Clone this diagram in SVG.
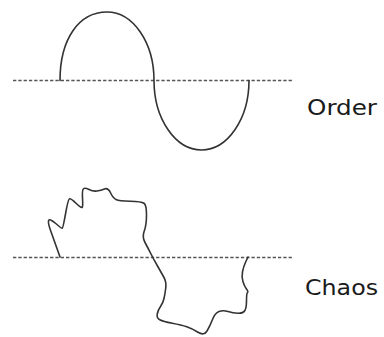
<svg xmlns="http://www.w3.org/2000/svg" width="384" height="337" viewBox="0 0 384 337">
  <style>
    .axis { stroke: #555; stroke-width: 1.5; stroke-dasharray: 3.3 2; fill: none; }
    .wave { stroke: #333; stroke-width: 1.6; fill: none; stroke-linejoin: round; stroke-linecap: round; }
    .label { font-family: "DejaVu Sans", Verdana, sans-serif; font-size: 20.5px; fill: #1a1a1a; }
  </style>
  <rect width="384" height="337" fill="#ffffff"/>
  <g id="order">
    <line class="axis" x1="13" y1="80.5" x2="293" y2="80.5"/>
    <path class="wave" d="M60,80.5 C60,39 78.8,12 107,12 C133,12 154,42.5 154,80.5 C154,118.6 175.3,150 201.5,150 C227.7,150 249,118.6 249,80.5"/>
    <text class="label" x="307" y="114.5" textLength="70" lengthAdjust="spacingAndGlyphs">Order</text>
  </g>
  <g id="chaos">
    <line class="axis" x1="13" y1="257.5" x2="293" y2="257.5"/>
    <path class="wave" d="M60,257 L57,248.5 Q54,240 50.75,231 Q47.5,222 48.75,220.25 Q50,218.5 55.75,223.5 Q61.5,228.5 62.25,228.25 Q63,228 65.5,214 Q68,200 69.25,199 Q70.5,198 76,203.25 Q81.5,208.5 82.25,207.25 Q83,206 82.5,198 Q82,190 83.5,188.75 Q85,187.5 89,189.5 Q93,191.5 97,191 Q101,190.5 104.5,189 Q108,187.5 110.5,192.75 Q113,198 116,199.5 Q119,201 130.25,201.25 Q141.5,201.5 144,203.25 Q146.5,205 146.5,215 Q146.5,225 144.25,231 Q142,237 145,242.5 Q148,248 150.75,253.5 Q153.5,259 157.5,266 Q161.5,273 164,277.5 Q166.5,282 165.75,288 Q165,294 164,298.5 Q163,303 160.5,306.5 Q158,310 157.25,314 Q156.5,318 159.75,319.75 Q163,321.5 172.25,323.25 Q181.5,325 186.75,326.75 Q192,328.5 198,332.25 Q204,336 207,331 Q210,326 212.5,319.5 Q215,313 219,311.5 Q223,310 228,311.5 Q233,313 238,313.25 Q243,313.5 244.75,310.75 Q246.5,308 246.5,300.75 Q246.5,293.5 247.5,292.5 Q248.5,291.5 246.5,289 Q244.5,286.5 243,281.75 Q241.5,277 242.5,271.75 Q243.5,266.5 245.75,261.75 L248,257"/>
    <text class="label" x="305" y="295" textLength="73" lengthAdjust="spacingAndGlyphs">Chaos</text>
  </g>
</svg>
